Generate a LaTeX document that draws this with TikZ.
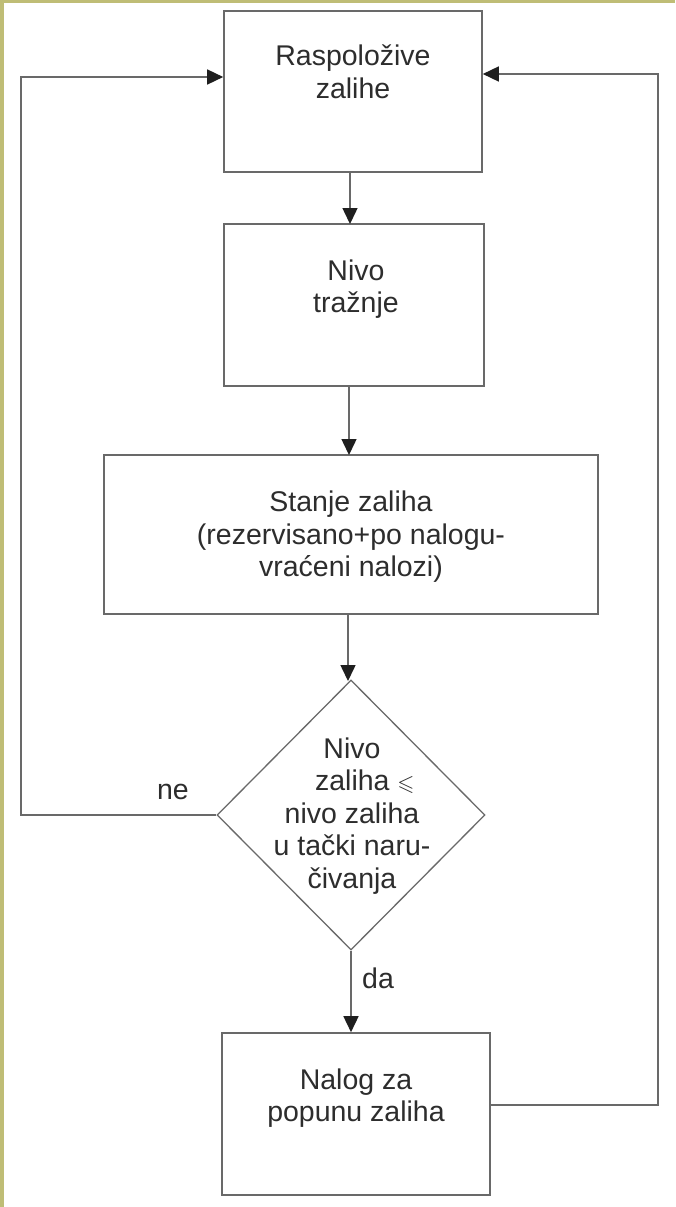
\documentclass[tikz,border=0pt]{standalone}
\usepackage{amssymb}
\usepackage{fontspec}
\setmainfont{Liberation Sans}
\usetikzlibrary{arrows.meta,shapes.geometric}
\definecolor{frameolive}{RGB}{191,189,118}
\definecolor{linegray}{RGB}{105,105,105}
\definecolor{inkgray}{RGB}{45,45,45}
\begin{document}
\begin{tikzpicture}[x=1pt,y=-1pt,
  box/.style={draw=linegray, line width=1.6pt, fill=white, inner sep=0pt},
  txt/.style={align=center, text=inkgray, font=\fontsize{28.5}{32.5}\selectfont, inner sep=0pt},
  decision/.style={diamond, draw=linegray, line width=1.3pt, inner sep=0pt,
    minimum width=268pt, minimum height=270pt},
  flow/.style={draw=linegray, line width=1.5pt,
    -{Triangle[length=16pt,width=15pt,fill=black!88,color=black!88]}},
  plain/.style={draw=linegray, line width=1.5pt}]
  % page and frame edges
  \useasboundingbox (0,0) rectangle (675,1207);
  \fill[white] (0,0) rectangle (675,1207);
  \fill[frameolive] (0,0) rectangle (675,3.5);
  \fill[frameolive] (0,0) rectangle (3.5,1207);

  % process boxes
  \node[box, minimum width=258pt, minimum height=161pt] (b1) at (353,91.5) {};
  \node[txt] (t1) at (353,72) {Raspoložive\\zalihe};
  \node[box, minimum width=260pt, minimum height=162pt] (b2) at (354,305) {};
  \node[txt] (t2) at (356,289) {Nivo\\tražnje};
  \node[box, minimum width=494pt, minimum height=159pt] (b3) at (351,534.5) {};
  \node[txt] (t3) at (351,537) {Stanje zaliha\\(rezervisano+po nalogu-\\vraćeni nalozi)};
  \node[decision] (d) at (351,815) {};
  \node[txt] (td) at (352,816) {Nivo\\\hspace*{0.9em}zaliha {\fontsize{22}{22}\selectfont$\leqslant$}\\nivo zaliha\\u tački naru-\\čivanja};
  \node[box, minimum width=268pt, minimum height=162pt] (b4) at (356,1114) {};
  \node[txt] (t4) at (356,1098) {Nalog za\\popunu zaliha};

  % loop corners
  \coordinate (nl) at (21,815);
  \coordinate (nu) at (21,77);
  \coordinate (rl) at (658,1105);
  \coordinate (ru) at (658,74);

  % main flow
  \draw[flow] (350,172) -- (350,224);
  \draw[flow] (349,386) -- (349,455);
  \draw[flow] (348,614) -- (348,681);
  \draw[flow] (d.south) -- (d.south |- b4.north);

  % feedback loops
  \draw[flow] (d.west) -- (nl) -- (nu) -- (b1.west |- nu);
  \draw[flow] (b4.east |- rl) -- (rl) -- (ru) -- (b1.east |- ru);

  % branch labels
  \node[txt] (ne) at (173,792) {ne};
  \node[txt] (da) at (378,978) {da};
\end{tikzpicture}
\end{document}
